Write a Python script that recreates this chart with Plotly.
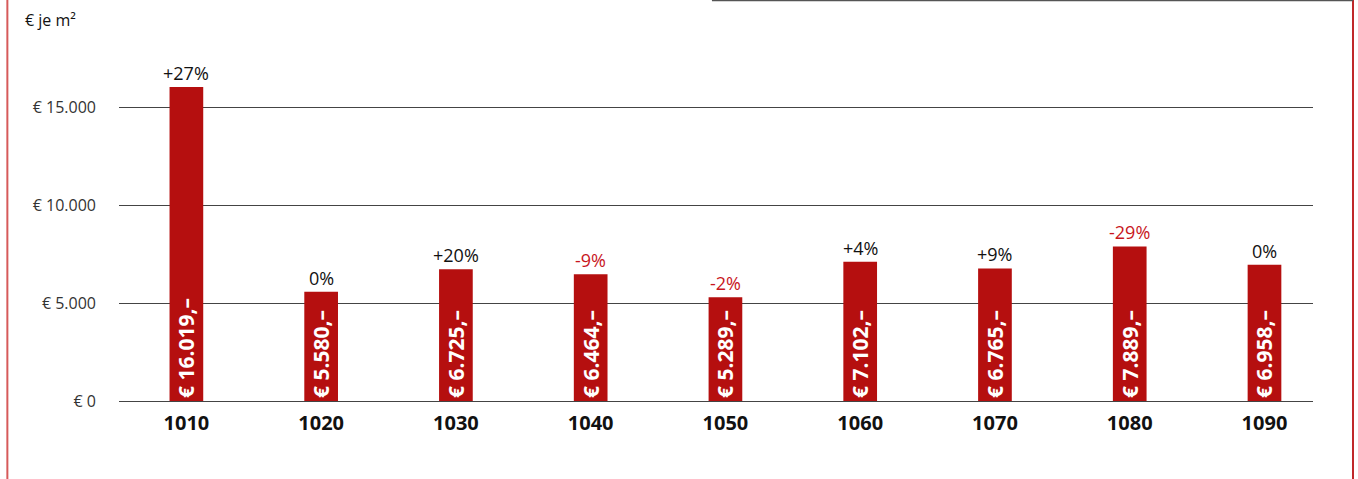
import plotly.graph_objects as go

districts = ["1010", "1020", "1030", "1040", "1050", "1060", "1070", "1080", "1090"]
prices = [16019, 5580, 6725, 6464, 5289, 7102, 6765, 7889, 6958]
price_labels = ["€ 16.019,–", "€ 5.580,–", "€ 6.725,–", "€ 6.464,–", "€ 5.289,–",
                "€ 7.102,–", "€ 6.765,–", "€ 7.889,–", "€ 6.958,–"]
changes = ["+27%", "0%", "+20%", "-9%", "-2%", "+4%", "+9%", "-29%", "0%"]
y_ticks = [0, 5000, 10000, 15000]
y_tick_labels = ["€ 0", "€ 5.000", "€ 10.000", "€ 15.000"]

BAR = "#b50f0f"
RED_TXT = "#c8161d"
FONT = "Open Sans"

fig = go.Figure()
fig.add_trace(go.Bar(
    x=districts, y=prices, width=0.25,
    marker=dict(color=BAR, line=dict(width=0)),
    text=price_labels, textposition="inside", insidetextanchor="start",
    textangle=-90, constraintext="none",
    textfont=dict(family=FONT, size=21, color="white", weight="bold"),
    hoverinfo="skip",
))

for i, (v, c) in enumerate(zip(prices, changes)):
    fig.add_annotation(
        x=i, y=v, xref="x", yref="y", text=c, showarrow=False,
        yanchor="bottom", yshift=0,
        font=dict(family=FONT, size=18, color=RED_TXT if c.startswith("-") else "#111111"),
    )

fig.add_annotation(
    x=-0.080, y=1.0, xref="paper", yref="paper", text="€ je m²", showarrow=False,
    xanchor="left", yanchor="middle", font=dict(family=FONT, size=16, color="#111111"),
)

# frame lines
fig.add_shape(type="line", xref="paper", yref="paper", x0=-0.0935, x1=-0.0935, y0=-0.21, y1=1.06,
              line=dict(color="#d65a5a", width=2))
fig.add_shape(type="line", xref="paper", yref="paper", x0=1.0335, x1=1.0335, y0=-0.21, y1=1.06,
              line=dict(color="#c0282a", width=2))
fig.add_shape(type="line", xref="paper", yref="paper", x0=0.4966, x1=1.0335, y0=1.0515, y1=1.0515,
              line=dict(color="#555555", width=1.5))

fig.update_layout(
    width=1358, height=479,
    margin=dict(l=119, r=45, t=20, b=78),
    paper_bgcolor="white", plot_bgcolor="white",
    showlegend=False,
    font=dict(family=FONT, color="#222222"),
)
fig.update_xaxes(
    type="category", range=[-0.5, 8.36],
    showgrid=False, showline=False, zeroline=False, ticks="",
    tickfont=dict(family=FONT, size=20, color="#111111", weight="bold"),
    ticklabelstandoff=8,
)
fig.update_yaxes(
    range=[0, 19440], tickvals=y_ticks, ticktext=y_tick_labels,
    showgrid=True, gridcolor="#444444", gridwidth=1,
    zeroline=True, zerolinecolor="#444444", zerolinewidth=1,
    ticks="", ticklabelstandoff=22,
    tickfont=dict(family=FONT, size=16, color="#333333"),
)

fig.write_html("out.html")
